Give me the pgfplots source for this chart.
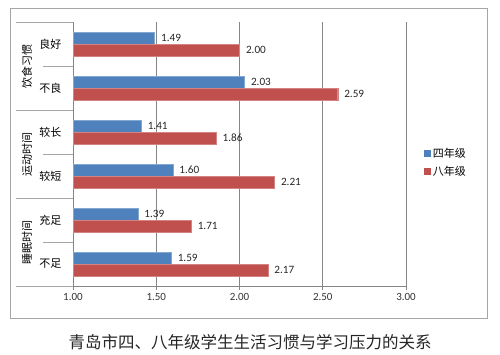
\documentclass[border=0pt]{standalone}
\usepackage{fontspec}
\setmainfont{Carlito}
\newfontfamily\cjk{Noto Sans CJK SC}
\usepackage{pgfplots}
\pgfplotsset{compat=1.18}
\definecolor{bblue}{HTML}{4F81BD}
\definecolor{rred}{HTML}{C0504D}
\definecolor{axgray}{HTML}{868686}
\definecolor{frgray}{HTML}{A6A6A6}
\begin{document}
\begin{tikzpicture}[x=1pt,y=1pt]
\path (0,0) rectangle (500,354);
\draw[frgray, line width=0.8pt] (10,36) rectangle (487,346);
\begin{axis}[
  at={(73pt,68pt)}, anchor=south west, scale only axis,
  width=333pt, height=264pt,
  xbar, bar width=12pt,
  xmin=1, xmax=3, ymin=-0.5, ymax=5.5,
  axis lines=left,
  axis line style={axgray, -, line width=0.8pt},
  xtick={1,1.5,2,2.5,3},
  xticklabel style={font=\fontsize{11}{13}\selectfont, text=black!80,
    /pgf/number format/.cd, fixed, fixed zerofill, precision=2, assume math mode=true},
  tick align=outside, major tick length=4pt,
  xtick style={axgray, line width=0.8pt},
  xmajorgrids, grid style={axgray, line width=0.8pt},
  ytick={0,1,2,3,4,5},
  yticklabels={不足,充足,较短,较长,不良,良好},
  yticklabel style={font=\cjk\fontsize{11}{13}\selectfont, xshift=-4pt},
  ytick style={draw=none},
  clip=false,
  point meta=x,
  nodes near coords,
  nodes near coords align=horizontal,
  every node near coord/.append style={font=\fontsize{11.2}{13}\selectfont, text=black!85, xshift=3pt,
    /pgf/number format/.cd, fixed, fixed zerofill, precision=2, assume math mode=true},
  legend style={draw=none, fill=none, at={(axis description cs:1.045,0.468)}, anchor=west,
    font=\cjk\fontsize{11}{13}\selectfont, row sep=3pt},
  legend cell align=left,
  legend image code/.code={\fill[#1,draw=none] (0pt,-3.3pt) rectangle (6.6pt,3.3pt);},
]
\addplot[fill=bblue, draw=bblue!70!white, bar shift=6pt] coordinates {
(1.49,5) (2.03,4) (1.41,3) (1.60,2) (1.39,1) (1.59,0)};
\addplot[fill=rred, draw=rred!70!white, bar shift=-6pt] coordinates {
(2.00,5) (2.59,4) (1.86,3) (2.21,2) (1.71,1) (2.17,0)};
\legend{四年级,八年级}
\draw[frgray, line width=0.8pt] (axis cs:1,5.5) -- ([xshift=-57pt]axis cs:1,5.5);
\draw[frgray, line width=0.8pt] (axis cs:1,4.5) -- ([xshift=-30pt]axis cs:1,4.5);
\draw[frgray, line width=0.8pt] (axis cs:1,3.5) -- ([xshift=-57pt]axis cs:1,3.5);
\draw[frgray, line width=0.8pt] (axis cs:1,2.5) -- ([xshift=-30pt]axis cs:1,2.5);
\draw[frgray, line width=0.8pt] (axis cs:1,1.5) -- ([xshift=-57pt]axis cs:1,1.5);
\draw[frgray, line width=0.8pt] (axis cs:1,0.5) -- ([xshift=-30pt]axis cs:1,0.5);
\draw[frgray, line width=0.8pt] (axis cs:1,-0.5) -- ([xshift=-57pt]axis cs:1,-0.5);
\node[rotate=90, font=\cjk\fontsize{11}{13}\selectfont] at ([xshift=-46pt]axis cs:1,4.5) {饮食习惯};
\node[rotate=90, font=\cjk\fontsize{11}{13}\selectfont] at ([xshift=-46pt]axis cs:1,2.5) {运动时间};
\node[rotate=90, font=\cjk\fontsize{11}{13}\selectfont] at ([xshift=-46pt]axis cs:1,0.5) {睡眠时间};
\end{axis}
\node[font=\cjk\fontsize{16.5}{19}\selectfont, text=black!85] at (250,12) {青岛市四、八年级学生生活习惯与学习压力的关系};
\end{tikzpicture}
\end{document}
